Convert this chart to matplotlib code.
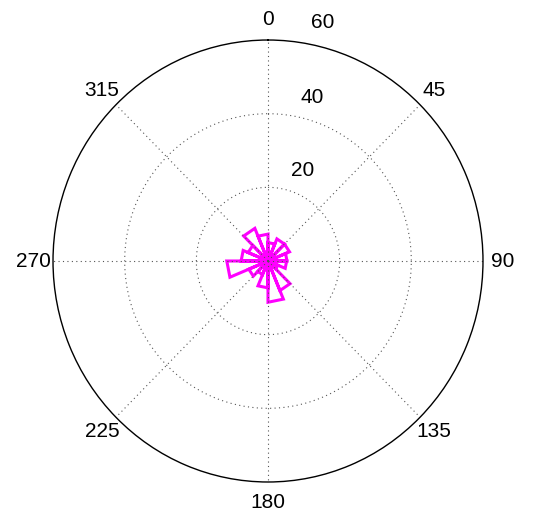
import numpy as np
import matplotlib.pyplot as plt

plt.rcParams['font.family'] = ['Liberation Sans', 'DejaVu Sans']

# rose histogram: 16 bins of 22.5 deg, compass angles (0 at top, clockwise)
n_bins = 16
counts = [5, 6.5, 6.5, 5.3, 5.2, 3, 8.7, 11.2,
          7.3, 4, 5.8, 11.5, 7.5, 6, 9.6, 7.3]
ring_values = [20, 40, 60]
angle_labels = ['0', '45', '90', '135', '180', '225', '270', '315']
angle_ticks = [0, 45, 90, 135, 180, 225, 270, 315]

fig = plt.figure(figsize=(5.36, 5.19), dpi=100)
ax = fig.add_axes([0.0989, 0.0713, 0.8022, 0.8516], projection='polar')
ax.set_aspect('auto')
ax.set_theta_zero_location('N')
ax.set_theta_direction(-1)
ax.set_rlim(0, 60)

# build rose outline like matlab's rose()
edges = np.deg2rad(np.arange(n_bins + 1) * 360.0 / n_bins)
th, rr = [], []
for i, c in enumerate(counts):
    th += [0, edges[i], edges[i + 1], 0]
    rr += [0, c, c, 0]
ax.plot(th, rr, color='#ff00ff', lw=2.2, solid_joinstyle='miter')

# grid
ax.grid(False)
ax.set_xticks([])
ax.set_yticks([])
tt = np.linspace(0, 2 * np.pi, 400)
for rv in ring_values[:-1]:
    ax.plot(tt, np.full_like(tt, rv), ls=(0, (1, 3)), color='#555555', lw=0.8)
for a in angle_ticks:
    ax.plot([np.deg2rad(a), np.deg2rad(a)], [0, 60], ls=(0, (1, 3)),
            color='#555555', lw=0.8)
ax.spines['polar'].set_linewidth(1.0)
ax.spines['polar'].set_color('black')

for a, lab in zip(angle_ticks, angle_labels):
    ax.text(np.deg2rad(a), 65.5, lab, ha='center', va='center', fontsize=15)

rlab_pos = [(21.4, 26.4), (15.5, 46.2), (13.2, 66.5)]
for (a, r), rv in zip(rlab_pos, ring_values):
    ax.text(np.deg2rad(a), r, str(rv), ha='center', va='center', fontsize=15)

fig.savefig('out.png', dpi=100)
